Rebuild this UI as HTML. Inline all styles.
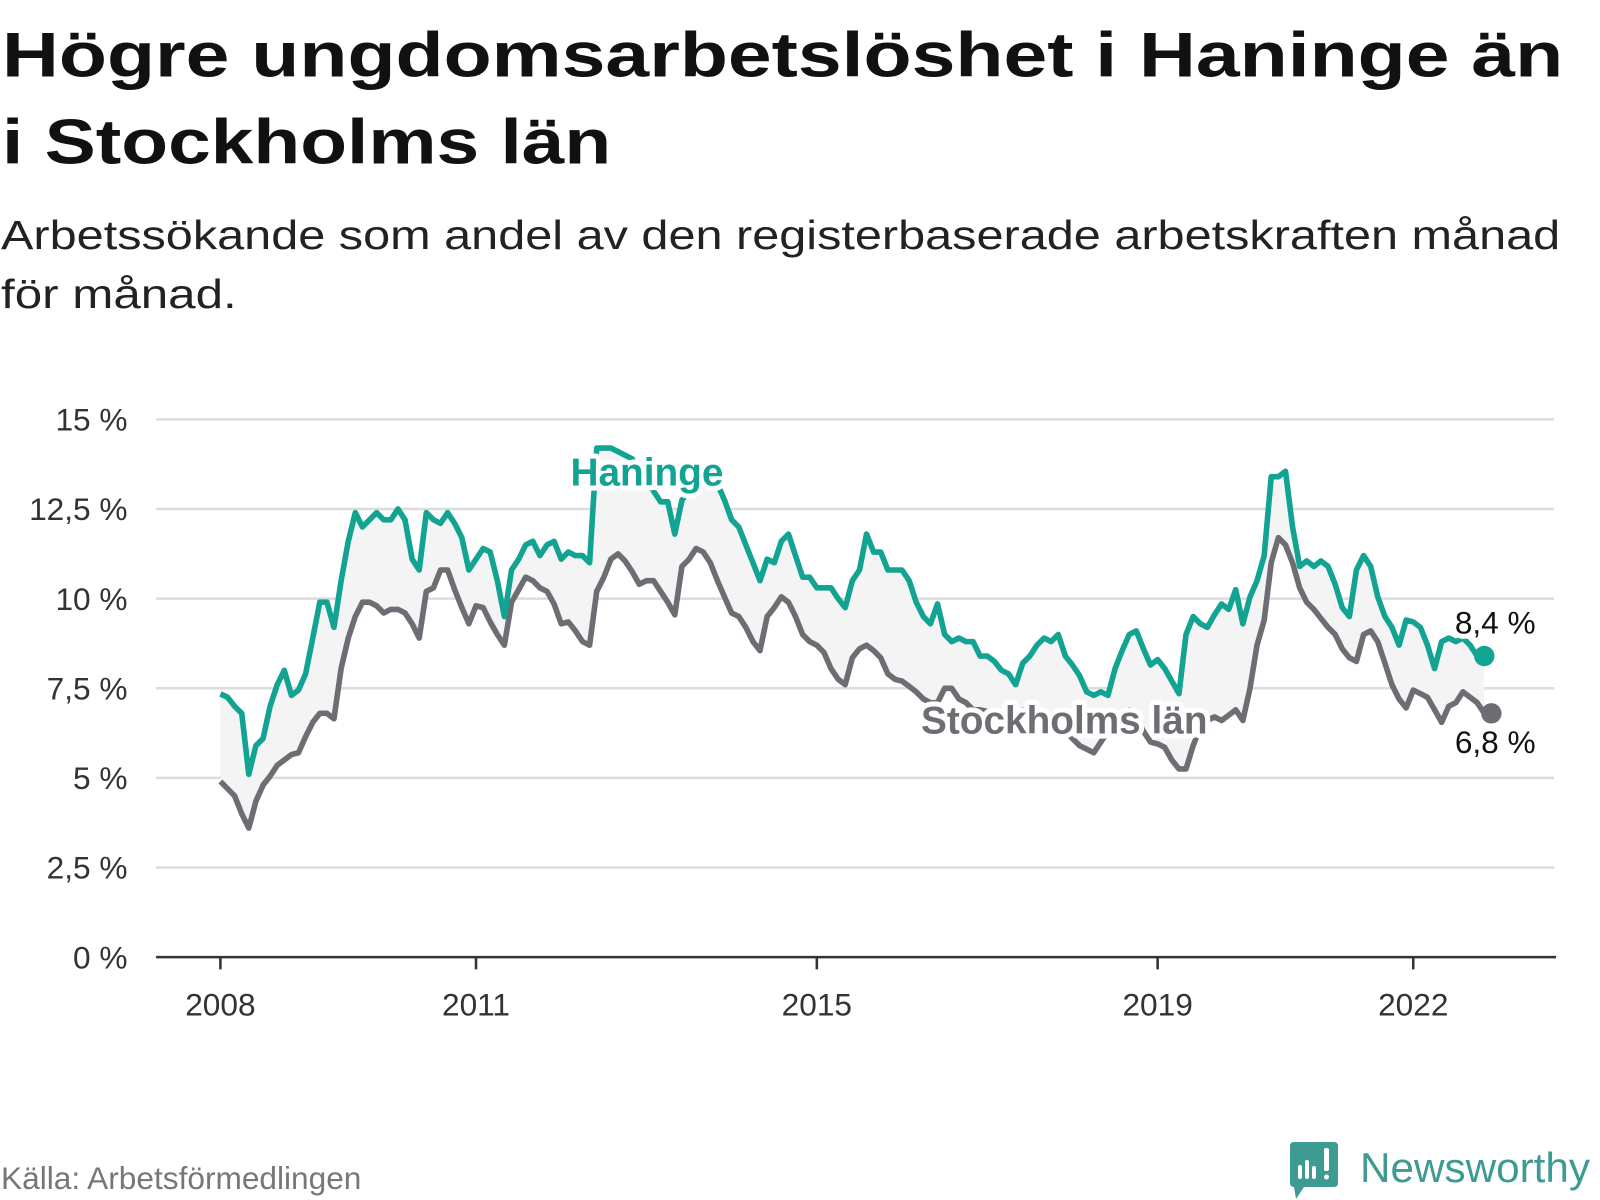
<!DOCTYPE html>
<html><head><meta charset="utf-8"><style>
html,body{margin:0;padding:0;background:#fff;width:1600px;height:1200px;overflow:hidden;}
svg{display:block;position:absolute;left:0;top:0;font-family:"Liberation Sans",sans-serif;}
</style></head><body>
<svg id="chart" width="1600" height="1200" viewBox="0 0 1600 1200">
<g transform="scale(1.0204)">
<text x="2" y="75" font-size="62" font-weight="bold" fill="#111" textLength="1530" lengthAdjust="spacingAndGlyphs">Högre ungdomsarbetslöshet i Haninge än</text>
<text x="2" y="160" font-size="62" font-weight="bold" fill="#111" textLength="597" lengthAdjust="spacingAndGlyphs">i Stockholms län</text>
<text x="1" y="244" font-size="40" fill="#222" textLength="1528" lengthAdjust="spacingAndGlyphs">Arbetssökande som andel av den registerbaserade arbetskraften månad</text>
<text x="1" y="302" font-size="40" fill="#222" textLength="231" lengthAdjust="spacingAndGlyphs">för månad.</text>
<g id="grid"></g>
<g id="marks"></g>
<g id="labels"></g>
<text x="1" y="1165" font-size="31" fill="#777">Källa: Arbetsförmedlingen</text>
</g>
<g>
<path d="M1294 1142 H1334 Q1338 1142 1338 1146 V1183 Q1338 1187 1334 1187 H1304 L1296 1199 L1294 1187 Q1290 1187 1290 1183 V1146 Q1290 1142 1294 1142 Z" fill="#3d9b93"/>
<rect x="1298" y="1165" width="4" height="14" rx="2" fill="#fff"/>
<rect x="1305" y="1160" width="4" height="19" rx="2" fill="#fff"/>
<rect x="1312" y="1166" width="4" height="13" rx="2" fill="#fff"/>
<rect x="1324" y="1148" width="5" height="23" rx="2" fill="#fff"/>
<circle cx="1326.5" cy="1177" r="2.5" fill="#fff"/>
<text x="1360" y="1182" font-size="42" fill="#3d9b93" textLength="230" lengthAdjust="spacingAndGlyphs">Newsworthy</text>
</g>
</svg>
<script>
const yTicks=[0,2.5,5,7.5,10,12.5,15];
const yTickLabels=["0 %","2,5 %","5 %","7,5 %","10 %","12,5 %","15 %"];
const xTicks=[2008,2011,2015,2019,2022];
const haninge=[7.34,7.25,7.0,6.8,5.1,5.9,6.1,7.0,7.6,8.0,7.3,7.45,7.9,8.9,9.9,9.9,9.2,10.5,
11.6,12.4,12.0,12.2,12.4,12.2,12.2,12.5,12.2,11.1,10.8,12.4,12.2,12.1,12.4,12.1,11.7,10.8,11.1,11.4,11.3,10.5,9.5,10.8,11.1,11.5,11.6,11.2,11.5,11.6,11.1,11.3,11.2,11.2,11.0,
14.2,14.2,14.2,14.1,14.0,13.9,13.6,13.3,13.0,12.7,12.7,11.8,12.75,13.0,13.3,13.5,13.3,13.2,12.75,12.2,12.0,11.5,11.0,10.5,11.1,11.0,11.6,11.8,11.2,10.6,10.6,10.3,10.3,10.3,10.0,9.75,10.5,10.8,11.8,11.3,11.3,10.8,10.8,10.8,10.5,9.9,9.5,9.3,9.85,9.0,8.8,8.9,8.8,8.8,8.4,8.4,8.25,8.0,7.9,7.6,8.2,8.4,8.7,8.9,8.8,9.0,8.4,8.15,7.85,7.4,7.3,7.4,7.3,8.05,8.55,9.0,9.1,8.6,8.15,8.3,8.05,7.7,7.35,9.0,9.5,9.3,9.2,9.55,9.85,9.7,10.25,9.3,10.05,10.5,11.2,13.4,13.4,13.55,12.0,10.9,11.05,10.9,11.05,10.9,10.4,9.75,9.5,10.8,11.2,10.9,10.05,9.5,9.2,8.7,9.4,9.35,9.2,8.7,8.05,8.8,8.9,8.8,8.9,8.7,8.4,8.4];
const stockholm=[4.9,4.7,4.5,4.0,3.6,4.35,4.8,5.05,5.35,5.5,5.65,5.7,6.15,6.55,6.8,6.8,6.65,8.05,8.9,9.5,9.9,9.9,9.8,9.6,9.7,9.7,9.6,9.3,8.9,10.2,10.3,10.8,10.8,10.25,9.75,9.3,9.8,9.75,9.35,9.0,8.7,9.9,10.25,10.6,10.5,10.3,10.2,9.85,9.3,9.35,9.1,8.8,8.7,10.2,10.6,11.1,11.25,11.05,10.75,10.4,10.5,10.5,10.2,9.9,9.55,10.9,11.1,11.4,11.3,11.0,10.5,10.05,9.6,9.5,9.2,8.8,8.55,9.5,9.75,10.05,9.9,9.5,9.0,8.8,8.7,8.5,8.05,7.75,7.6,8.35,8.6,8.7,8.55,8.35,7.9,7.75,7.7,7.55,7.4,7.2,7.1,7.1,7.5,7.5,7.2,7.1,6.9,6.9,6.85,6.8,6.8,6.75,6.8,6.9,6.85,6.8,6.7,6.6,6.5,6.3,6.1,5.9,5.8,5.7,6.0,6.3,6.6,6.8,6.9,6.7,6.3,6.0,5.95,5.85,5.5,5.25,5.25,5.9,6.4,6.6,6.7,6.6,6.75,6.9,6.6,7.5,8.7,9.4,11.0,11.7,11.5,11.0,10.3,9.9,9.7,9.45,9.2,9.0,8.6,8.35,8.25,9.0,9.1,8.8,8.2,7.6,7.2,6.95,7.45,7.35,7.25,6.9,6.55,7.0,7.1,7.4,7.25,7.1,6.8,6.8];
const NS="http://www.w3.org/2000/svg";
const X0=216,PXY=83.5,Y0=938,PXU=35.133;
function xs(yr){return X0+(yr-2008)*PXY;}
function xi(i){return xs(2008+i/12);}
function ys(v){return Y0-v*PXU;}
function mk(tag,attrs,parent){const e=document.createElementNS(NS,tag);for(const k in attrs)e.setAttribute(k,attrs[k]);parent.appendChild(e);return e;}
const grid=document.getElementById('grid'),marks=document.getElementById('marks'),labels=document.getElementById('labels');
yTicks.forEach((t,i)=>{
 if(t>0){const g=mk('line',{x1:153,x2:1523,y1:ys(t),y2:ys(t),stroke:'#dcdcdc','stroke-width':2.5},grid);
 
 }
 const l=mk('text',{x:125,y:ys(t)+11,'text-anchor':'end','font-size':31,fill:'#333'},grid);
 l.textContent=yTickLabels[i];
 
 
});
const ax=mk('line',{x1:153,x2:1525,y1:Y0,y2:Y0,stroke:'#333','stroke-width':2.5},grid);


xTicks.forEach(t=>{
 const tk=mk('line',{x1:xs(t),x2:xs(t),y1:Y0,y2:Y0+12,stroke:'#333','stroke-width':2.5},grid);
 
 
 const l=mk('text',{x:xs(t),y:995,'text-anchor':'middle','font-size':31,fill:'#333'},grid);
 l.textContent=String(t);
 
 
});
const n=Math.min(haninge.length,stockholm.length);
let area='';
for(let i=0;i<n;i++)area+=(i?'L':'M')+xi(i).toFixed(1)+' '+ys(haninge[i]).toFixed(1);
for(let i=n-1;i>=0;i--)area+='L'+xi(i).toFixed(1)+' '+ys(stockholm[i]).toFixed(1);
const ar=mk('path',{d:area+'Z',fill:'#f4f4f4'},marks);


function line(arr,col,name){
 let d='';arr.forEach((v,i)=>{d+=(i?'L':'M')+xi(i).toFixed(1)+' '+ys(v).toFixed(1);});
 const p=mk('path',{d:d,fill:'none',stroke:col,'stroke-width':5.5,'stroke-linejoin':'round'},marks);
 
 
 const c=mk('circle',{cx:xi(arr.length-1),cy:ys(arr[arr.length-1]),r:10,fill:col},marks);
 
 
}
line(stockholm,'#6e6d73','stockholm-line');
line(haninge,'#12a393','haninge-line');
function lab(txt,x,y,col,bold,anchor,name){
 const t=mk('text',{x:x,y:y,'text-anchor':anchor,'font-size':bold?38:31,'font-weight':bold?'bold':'normal',fill:col,stroke:'#fff','stroke-width':10,'paint-order':'stroke','stroke-linejoin':'round'},labels);
 t.textContent=txt;
 
 
}
lab('Haninge',634,476,'#12a393',true,'middle','haninge-label');
lab('Stockholms län',1043,719,'#6e6d73',true,'middle','stockholm-label');
lab(String(haninge[n-1]).replace('.',',')+' %',1505,621,'#111',false,'end','haninge-end-value');
lab(String(stockholm[n-1]).replace('.',',')+' %',1505,738,'#111',false,'end','stockholm-end-value');
</script>
</body></html>
